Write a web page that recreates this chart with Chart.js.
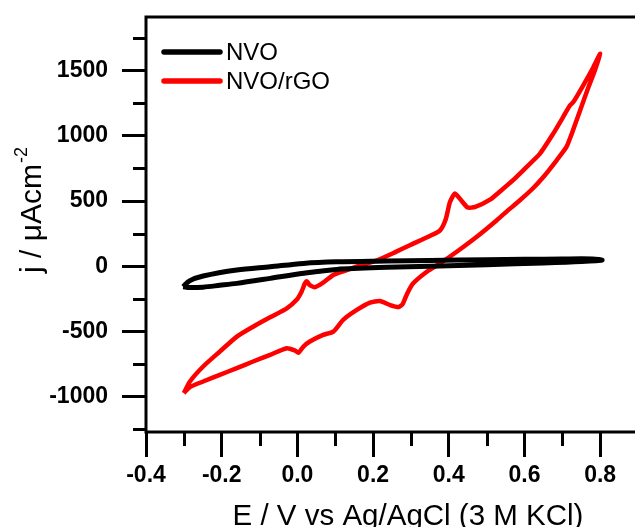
<!DOCTYPE html>
<html>
<head>
<meta charset="utf-8">
<script src="https://cdn.jsdelivr.net/npm/chart.js@4"></script>
<style>
html, body { margin: 0; padding: 0; background: #fff; overflow: hidden; }
#cv { display: block; }
</style>
</head>
<body>
<canvas id="cv" width="645" height="527"></canvas>
<script>
// NVO loop (potential in V, current density in uA/cm2)
const nvoE = [-0.302, -0.285, -0.249, -0.205, -0.160, -0.072, 0.016, 0.104, 0.236, 0.350, 0.500, 0.650, 0.750, 0.805,
              0.780, 0.700, 0.600, 0.500, 0.350, 0.236, 0.104, 0.016, -0.072, -0.160, -0.249, -0.285, -0.302];
const nvoJ = [-157, -163, -160, -146, -131, -93, -54, -24, -8, 0, 12, 25, 36, 47,
              56, 56, 53, 50, 45, 40, 34, 22, -4, -29, -75, -112, -157];

// NVO/rGO loop: anodic sweep then cathodic sweep
const rgoE = [-0.300, -0.284, -0.249, -0.205, -0.160, -0.117, -0.072, -0.028, -0.002, 0.011, 0.020, 0.025, 0.033, 0.047,
              0.068, 0.095, 0.125, 0.160, 0.210, 0.260, 0.300, 0.350, 0.377, 0.392, 0.403, 0.416, 0.430, 0.450, 0.470,
              0.509, 0.540, 0.570, 0.600, 0.641, 0.676, 0.702, 0.720, 0.729, 0.755, 0.782, 0.800,
              0.786, 0.769, 0.747, 0.725, 0.711, 0.685, 0.650, 0.620, 0.588, 0.550, 0.527, 0.474, 0.421, 0.377, 0.342,
              0.306, 0.290, 0.278, 0.268, 0.245, 0.218, 0.192, 0.157, 0.121, 0.095, 0.068, 0.033, 0.016, 0.003, -0.006,
              -0.028, -0.072, -0.117, -0.160, -0.205, -0.249, -0.284, -0.300];
const rgoJ = [-972, -883, -768, -654, -539, -463, -391, -322, -257, -195, -131, -115, -145, -160,
              -126, -67, -35, 0, 45, 110, 165, 232, 275, 360, 490, 557, 515, 450, 455,
              510, 585, 660, 745, 863, 1016, 1143, 1232, 1258, 1385, 1525, 1628,
              1500, 1372, 1194, 1016, 914, 812, 684, 590, 506, 412, 353, 226, 111, 22, -42,
              -131, -210, -290, -312, -297, -266, -279, -335, -411, -501, -526, -577, -615, -662, -646,
              -628, -679, -730, -781, -832, -883, -926, -972];

const seriesNames = ['NVO', 'NVO/rGO'];
const seriesColors = ['#000000', '#ff0000'];

const xTicks = [-0.4, -0.2, 0, 0.2, 0.4, 0.6, 0.8];
const xTickLabels = ['-0.4', '-0.2', '0.0', '0.2', '0.4', '0.6', '0.8'];
const xMinor = [-0.3, -0.1, 0.1, 0.3, 0.5, 0.7];
const yTicks = [-1000, -500, 0, 500, 1000, 1500];
const yTickLabels = ['-1000', '-500', '0', '500', '1000', '1500'];
const yMinor = [-1250, -750, -250, 250, 750, 1250, 1750];

const xTitle = 'E / V vs Ag/AgCl (3 M KCl)';
const yTitle = 'j / \u03bcAcm';
const yTitleSup = '-2';

const FONT = "'Liberation Sans', Arial, sans-serif";

function toPoints(xs, ys) {
    return xs.map((v, i) => ({ x: v, y: ys[i] }));
}

// frame, minor ticks, legend and axis titles
const decorPlugin = {
    id: 'decor',
    afterDraw(chart) {
        const { ctx, chartArea: a, scales: { x, y } } = chart;
        ctx.save();
        ctx.strokeStyle = '#000';
        ctx.lineWidth = 3;
        ctx.strokeRect(a.left, a.top, a.right - a.left, a.bottom - a.top);

        ctx.beginPath();
        xMinor.forEach(v => {
            const px = Math.round(x.getPixelForValue(v)) + 0.5;
            ctx.moveTo(px, a.bottom);
            ctx.lineTo(px, a.bottom + 14);
        });
        yMinor.forEach(v => {
            const py = Math.round(y.getPixelForValue(v)) + 0.5;
            ctx.moveTo(a.left, py);
            ctx.lineTo(a.left - 13, py);
        });
        ctx.stroke();

        // legend
        ctx.lineCap = 'round';
        ctx.font = '24px ' + FONT;
        ctx.textBaseline = 'middle';
        ctx.textAlign = 'left';
        chart.data.datasets.forEach((ds, i) => {
            const ly = 52 + i * 29;
            ctx.strokeStyle = ds.borderColor;
            ctx.lineWidth = 5.5;
            ctx.beginPath();
            ctx.moveTo(164, ly);
            ctx.lineTo(220, ly);
            ctx.stroke();
            ctx.fillStyle = '#000';
            ctx.fillText(ds.label, 226, ly + 1);
        });

        // x title
        ctx.fillStyle = '#000';
        ctx.font = '29.5px ' + FONT;
        ctx.textAlign = 'center';
        ctx.textBaseline = 'alphabetic';
        ctx.fillText(xTitle, 408, 525);

        // y title with superscript
        ctx.save();
        ctx.translate(41, 273);
        ctx.rotate(-Math.PI / 2);
        ctx.textAlign = 'left';
        ctx.font = '30px ' + FONT;
        ctx.fillText(yTitle, 0, 0);
        const w = ctx.measureText(yTitle).width;
        ctx.font = '18px ' + FONT;
        ctx.fillText(yTitleSup, w + 1, -14);
        ctx.restore();

        ctx.restore();
    }
};

const tickFont = { family: FONT, size: 23, weight: 'bold' };

new Chart(document.getElementById('cv').getContext('2d'), {
    type: 'scatter',
    data: {
        datasets: [
            {
                label: seriesNames[0],
                data: toPoints(nvoE, nvoJ),
                borderColor: seriesColors[0],
                borderWidth: 5,
                showLine: true,
                pointRadius: 0,
                tension: 0.3
            },
            {
                label: seriesNames[1],
                data: toPoints(rgoE, rgoJ),
                borderColor: seriesColors[1],
                borderWidth: 4.5,
                showLine: true,
                pointRadius: 0,
                tension: 0.2
            }
        ]
    },
    options: {
        responsive: false,
        animation: false,
        devicePixelRatio: 1,
        layout: { padding: { top: 17, right: 7, left: 0, bottom: 0 } },
        plugins: {
            legend: { display: false },
            tooltip: { enabled: false }
        },
        scales: {
            x: {
                type: 'linear',
                min: -0.4,
                max: 0.9,
                afterBuildTicks: scale => { scale.ticks = xTicks.map(v => ({ value: v })); },
                afterFit: scale => {
                    scale.height = 95;
                    scale.paddingLeft = 0;
                    scale.paddingRight = 0;
                },
                border: { display: false },
                grid: { drawOnChartArea: false, tickLength: 25, tickWidth: 3, tickColor: '#000' },
                ticks: {
                    color: '#000',
                    font: tickFont,
                    padding: 5,
                    autoSkip: false,
                    maxRotation: 0,
                    callback: (v, i) => xTickLabels[i]
                }
            },
            y: {
                min: -1270,
                max: 1910,
                afterBuildTicks: scale => { scale.ticks = yTicks.map(v => ({ value: v })); },
                afterFit: scale => {
                    scale.width = 146;
                    scale.paddingTop = 0;
                    scale.paddingBottom = 0;
                },
                border: { display: false },
                grid: { drawOnChartArea: false, tickLength: 24, tickWidth: 3, tickColor: '#000' },
                ticks: {
                    color: '#000',
                    font: tickFont,
                    padding: 14,
                    autoSkip: false,
                    callback: (v, i) => yTickLabels[i]
                }
            }
        }
    },
    plugins: [decorPlugin]
});
</script>
</body>
</html>
